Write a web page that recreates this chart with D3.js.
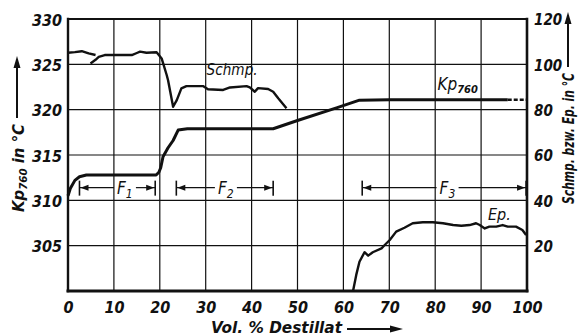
<!DOCTYPE html>
<html><head><meta charset="utf-8">
<script src="https://cdn.jsdelivr.net/npm/d3@7"></script>
<style>
html,body{margin:0;padding:0;background:#fff;}
svg{display:block;}
text{font-family:'Liberation Sans Narrow','DejaVu Sans Condensed','Liberation Sans',sans-serif;font-style:italic;fill:#111;}
</style></head>
<body>
<svg id="chart" width="581" height="336"></svg>
<script>
// ---- data ----
const xTicks = [0,10,20,30,40,50,60,70,80,90,100];
const leftTicks = [305,310,315,320,325,330];
const rightTicks = [20,40,60,80,100,120];

const kpX = [0,0.5,1.5,2.5,4,10,19.2,19.8,20.2,20.7,21.8,22.9,24.0,26,35,44.7,50,58.5,63.5,70,95.8];
const kpY = [310.5,311.3,312.2,312.6,312.8,312.8,312.8,313.1,313.6,314.8,315.8,316.6,317.75,317.9,317.9,317.9,318.8,320.2,321.05,321.1,321.1];
const kpDashX = [95.8,100];
const kpDashY = [321.1,321.1];

const schmpAX = [0,1.5,3,4.5,6];
const schmpAV = [105.1,105.4,105.8,104.8,104.1];
const schmpX = [4.9,6.0,6.7,8,9.1,13.9,15.0,15.7,17.1,19.3,20.4,21.5,21.8,22.9,23.7,24.7,25.8,29.4,30.5,33.8,35.3,38.9,39.6,40.7,41.4,43.6,44.7,45.8,47.6];
const schmpV = [100.4,102,103.3,104.1,104.1,104.1,105,105.6,105.1,105.3,102.6,95.3,93,81.3,84.2,89.4,90.4,90.4,89.0,88.7,89.8,90.4,89.8,87.9,89.5,89.1,87.9,85,80.6];

const epX = [62.1,62.8,63.5,64.6,65.4,66.4,68.3,69.0,70.1,71.5,73.3,75.1,77.3,79.5,81.7,83.9,85.7,87.5,88.9,89.7,90.8,91.8,93.3,94.7,95.8,97.6,99.0,99.8];
const epV = [0,7.1,12.9,17.1,15.6,17.1,18.8,20.3,22.5,26.2,27.9,29.9,30.3,30.3,29.9,29.1,28.8,29.1,29.9,29.1,27.6,28.4,28.4,29.1,28.4,28.4,26.9,24.7];

const fNames = ["1","2","3"];
const fStart = [2.5,23.6,64.1];
const fEnd = [19,44.7,99.8];
const fLabelX = [12.4,34.4,82.7];
const fLevel = 311.4;

// ---- scales ----
const svg = d3.select("#chart");
const x = d3.scaleLinear().domain([0,100]).range([68,527]);
const yL = d3.scaleLinear().domain([300,330]).range([291,19]);
const yR = d3.scaleLinear().domain([0,120]).range([291,19]);

// grid
const g = svg.append("g");
g.selectAll(".vg").data(xTicks.filter(d=>d>0&&d<100)).join("line")
  .attr("x1",d=>x(d)).attr("x2",d=>x(d)).attr("y1",yL(330)).attr("y2",yL(300))
  .attr("stroke","#111").attr("stroke-width",1.2);
g.selectAll(".hg").data(leftTicks.filter(d=>d<330)).join("line")
  .attr("x1",x(0)).attr("x2",x(100)).attr("y1",d=>yL(d)).attr("y2",d=>yL(d))
  .attr("stroke","#111").attr("stroke-width",1.2);

// frame
const frame = [
  [x(0),yL(330),x(100),yL(330),1.8],
  [x(0),yL(330),x(0),yL(300),2.4],
  [x(100),yL(330),x(100),yL(300),2.6],
  [x(0),yL(300),x(100),yL(300),3]
];
g.selectAll(".fr").data(frame).join("line")
  .attr("x1",d=>d[0]).attr("y1",d=>d[1]).attr("x2",d=>d[2]).attr("y2",d=>d[3])
  .attr("stroke","#111").attr("stroke-width",d=>d[4]).attr("stroke-linecap","square");

// axes
const tickFont = "'Liberation Sans Narrow','DejaVu Sans Condensed',sans-serif";
const axL = svg.append("g").attr("transform",`translate(${x(0)-5},0)`)
  .call(d3.axisLeft(yL).tickValues(leftTicks).tickSize(0).tickFormat(d3.format("d")));
axL.select(".domain").remove();
axL.selectAll("text").attr("font-size","16px").attr("font-weight","bold")
  .attr("font-family",tickFont).attr("font-style","italic").attr("fill","#111").attr("x",-1).attr("dy","0.38em");

const axR = svg.append("g").attr("transform",`translate(${x(100)+6},0)`)
  .call(d3.axisRight(yR).tickValues(rightTicks).tickSize(0).tickFormat(d3.format("d")));
axR.select(".domain").remove();
axR.selectAll("text").attr("font-size","15px").attr("font-weight","bold")
  .attr("font-family",tickFont).attr("font-style","italic").attr("fill","#111").attr("x",1).attr("dy","0.38em");

const axB = svg.append("g").attr("transform",`translate(0,${yL(300)+8})`)
  .call(d3.axisBottom(x).tickValues(xTicks).tickSize(0).tickFormat(d3.format("d")));
axB.select(".domain").remove();
axB.selectAll("text").attr("font-size","16px").attr("font-weight","bold")
  .attr("font-family",tickFont).attr("font-style","italic").attr("fill","#111").attr("y",3).attr("dy","0.71em");

// curves
const lineL = d3.line().x(d=>x(d[0])).y(d=>yL(d[1])).curve(d3.curveLinear);
const lineR = d3.line().x(d=>x(d[0])).y(d=>yR(d[1])).curve(d3.curveLinear);
const zip = (a,b)=>a.map((v,i)=>[v,b[i]]);

svg.append("path").attr("d",lineL(zip(kpX,kpY))).attr("fill","none").attr("stroke","#111").attr("stroke-width",3).attr("stroke-linejoin","round");
svg.append("path").attr("d",lineL(zip(kpDashX,kpDashY))).attr("fill","none").attr("stroke","#111").attr("stroke-width",2.6).attr("stroke-dasharray","4,2");
svg.append("path").attr("d",lineR(zip(schmpAX,schmpAV))).attr("fill","none").attr("stroke","#111").attr("stroke-width",2.4).attr("stroke-linejoin","round");
svg.append("path").attr("d",lineR(zip(schmpX,schmpV))).attr("fill","none").attr("stroke","#111").attr("stroke-width",2.4).attr("stroke-linejoin","round");
svg.append("path").attr("d",lineR(zip(epX,epV))).attr("fill","none").attr("stroke","#111").attr("stroke-width",2.4).attr("stroke-linejoin","round");

// F dimension lines
const fy = yL(fLevel);
fNames.forEach((n,i)=>{
  const a = x(fStart[i]), b = x(fEnd[i]), c = x(fLabelX[i]);
  const gg = svg.append("g");
  gg.append("line").attr("x1",a).attr("x2",a).attr("y1",fy-7).attr("y2",fy+8).attr("stroke","#111").attr("stroke-width",1.6);
  gg.append("line").attr("x1",b).attr("x2",b).attr("y1",fy-7).attr("y2",fy+8).attr("stroke","#111").attr("stroke-width",1.6);
  gg.append("line").attr("x1",a).attr("x2",c-11).attr("y1",fy).attr("y2",fy).attr("stroke","#111").attr("stroke-width",1.2);
  gg.append("line").attr("x1",c+11).attr("x2",b).attr("y1",fy).attr("y2",fy).attr("stroke","#111").attr("stroke-width",1.2);
  gg.append("path").attr("d",`M${a+1},${fy}L${a+9},${fy-3}L${a+9},${fy+3}Z`).attr("fill","#111");
  gg.append("path").attr("d",`M${b-1},${fy}L${b-9},${fy-3}L${b-9},${fy+3}Z`).attr("fill","#111");
  const t = gg.append("text").attr("x",c-8).attr("y",fy+6).attr("font-size","17px");
  t.append("tspan").text("F");
  t.append("tspan").text(n).attr("font-size","12px").attr("dy","4");
});

// curve labels
svg.append("text").attr("x",x(30.2)).attr("y",yR(95.5)).attr("font-size","16px").attr("textLength",51).attr("lengthAdjust","spacingAndGlyphs").text("Schmp.");
const kl = svg.append("text").attr("x",x(80.5)).attr("y",yR(88.5)).attr("font-size","17px");
kl.append("tspan").text("Kp");
kl.append("tspan").text("760").attr("font-size","11px").attr("font-weight","bold").attr("dy","3");
svg.append("text").attr("x",x(91.5)).attr("y",yR(31.5)).attr("font-size","16px").text("Ep.");

// axis titles
const lt = svg.append("text").attr("transform","translate(24,212) rotate(-90)").attr("font-size","16px").attr("font-weight","bold")
  .attr("textLength",88).attr("lengthAdjust","spacingAndGlyphs");
lt.append("tspan").text("Kp");
lt.append("tspan").text("760").attr("font-size","11px").attr("dy","3");
lt.append("tspan").text(" in °C").attr("dy","-3");
svg.append("line").attr("x1",17).attr("x2",17).attr("y1",118).attr("y2",64).attr("stroke","#111").attr("stroke-width",2);
svg.append("path").attr("d","M17,56L13.5,68L20.5,68Z").attr("fill","#111");

svg.append("text").attr("transform","translate(574,204) rotate(-90)").attr("font-size","15px").attr("font-weight","bold")
  .attr("textLength",131).attr("lengthAdjust","spacingAndGlyphs").text("Schmp. bzw. Ep. in °C");
svg.append("line").attr("x1",568).attr("x2",568).attr("y1",67).attr("y2",20).attr("stroke","#111").attr("stroke-width",2);
svg.append("path").attr("d","M568,12L564.5,24L571.5,24Z").attr("fill","#111");

svg.append("text").attr("x",211).attr("y",333).attr("font-size","16px").attr("font-weight","bold")
  .attr("textLength",131).attr("lengthAdjust","spacingAndGlyphs").text("Vol. % Destillat");
svg.append("line").attr("x1",347).attr("x2",394).attr("y1",329).attr("y2",329).attr("stroke","#111").attr("stroke-width",2);
svg.append("path").attr("d","M403,329L390,325.5L390,332.5Z").attr("fill","#111");
</script>
</body></html>
